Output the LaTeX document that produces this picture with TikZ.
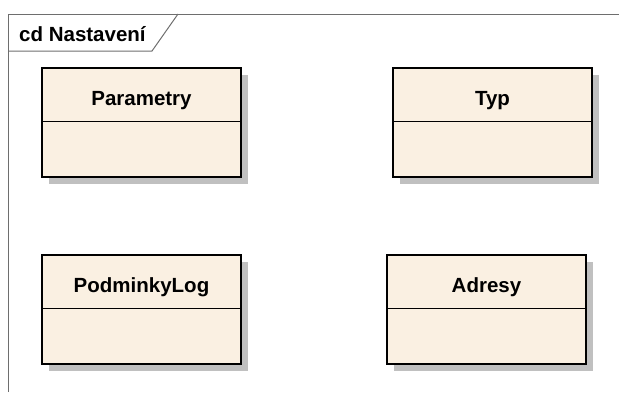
\documentclass[tikz,border=0pt]{standalone}
\usepackage{fontspec}
\setmainfont{Liberation Sans}
\usetikzlibrary{shadows,positioning}

\definecolor{classfill}{RGB}{250,240,226}
\definecolor{shadowgray}{RGB}{192,192,192}
\definecolor{framegray}{RGB}{110,110,110}

\tikzset{
  classbox/.style={draw=black, line width=1.6pt, fill=classfill,
    minimum width=199pt, minimum height=109pt, inner sep=0pt,
    drop shadow={shadow xshift=6.5pt, shadow yshift=-6.5pt, fill=shadowgray, opacity=1}},
  classname/.style={font=\fontsize{20.5}{24}\selectfont\bfseries, inner sep=0pt},
  divider/.style={draw=black, line width=1.3pt},
  frameline/.style={draw=framegray, line width=1pt}
}

\begin{document}
\begin{tikzpicture}[x=1pt,y=-1pt]
	\useasboundingbox (0,0) rectangle (619,392);
	% diagram frame and its tab
	\draw[frameline] (8,392) -- (8,14) -- (619,14);
	\draw[frameline] (8,51) -- (152,51) -- (178,14);
	\node[classname, anchor=west] (title) at (19,34) {cd Nastavení};

	% classes
	\node[classbox] (parametry) at (141.5,122.5) {};
	\node[classbox] (typ) at (492.5,122.5) {};
	\node[classbox] (podminky) at (141.5,309.5) {};
	\node[classbox] (adresy) at (486.5,309.5) {};

	\foreach \c/\t in {parametry/Parametry, typ/Typ, podminky/PodminkyLog, adresy/Adresy} {
		\node[classname, anchor=base] (\c-name) at ([yshift=-38pt]\c.north) {\t};
		\draw[divider] ([yshift=-54pt]\c.north west) -- ([yshift=-54pt]\c.north east);
	}
\end{tikzpicture}
\end{document}
